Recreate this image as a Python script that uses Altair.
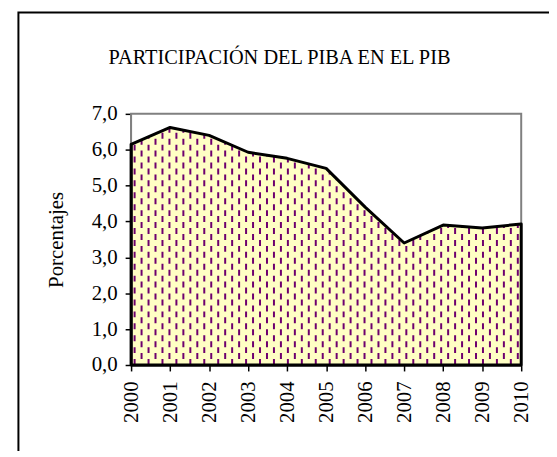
import altair as alt
import pandas as pd

years = [2000, 2001, 2002, 2003, 2004, 2005, 2006, 2007, 2008, 2009, 2010]
values = [6.15, 6.62, 6.40, 5.93, 5.76, 5.48, 4.40, 3.40, 3.90, 3.82, 3.93]
y_ticks = [0, 1, 2, 3, 4, 5, 6, 7]
title_text = "PARTICIPACIÓN DEL PIBA EN EL PIB"
y_title = "Porcentajes"

df = pd.DataFrame({"year": years, "value": values})

FONT = "Liberation Serif, Times New Roman, serif"
XS = alt.Scale(domain=[2000, 2010], nice=False, zero=False)
YS = alt.Scale(domain=[0, 7], nice=False)

x_axis = alt.Axis(values=years, format="d", labelAngle=-90, labelPadding=10,
                  tickSize=6, title=None, labelOverlap=False)
y_axis = alt.Axis(values=y_ticks, labelExpr="replace(format(datum.value, '.1f'), '.', ',')",
                  tickSize=6, labelPadding=8, title=y_title, titlePadding=25,
                  labelOverlap=False)

# outer frame of the chart box
frame_box = alt.Chart(alt.Data(values=[{"k": 1}])).mark_rect(
    fillOpacity=0, stroke="black", strokeWidth=2
).encode(x=alt.value(-113.5), y=alt.value(-102), x2=alt.value(700), y2=alt.value(600))

# dashed texture (decorative pattern)
seq = alt.sequence(0, 56, 1, as_="i")
def dashes(parity, offset):
    return alt.Chart(seq).transform_calculate(
        px="2000.09 + datum.i * 0.1786", par="datum.i % 2"
    ).transform_filter(f"datum.par == {parity}").mark_rule(
        color="#6E006E", strokeWidth=2, strokeDash=[6, 6], strokeDashOffset=offset
    ).encode(
        x=alt.X("px:Q", scale=XS, axis=x_axis),
        y=alt.datum(0, scale=YS, axis=y_axis),
        y2=alt.datum(7),
    )

base = alt.Chart(df)

cover = base.mark_area(color="white", opacity=1, interpolate="linear").encode(
    x=alt.X("year:Q", scale=XS, axis=x_axis),
    y=alt.Y("value:Q", scale=YS, axis=y_axis),
    y2=alt.datum(7),
)

plot_frame = alt.Chart(alt.Data(values=[{"k": 1}])).mark_rect(
    fillOpacity=0, stroke="#808080", strokeWidth=2
).encode(
    x=alt.datum(2000, scale=XS, axis=x_axis), x2=alt.datum(2010),
    y=alt.datum(0, scale=YS, axis=y_axis), y2=alt.datum(7),
)

outline = base.mark_area(fillOpacity=0, stroke="black", strokeWidth=3,
                         strokeJoin="round", interpolate="linear").encode(
    x=alt.X("year:Q", scale=XS, axis=x_axis),
    y=alt.Y("value:Q", scale=YS, axis=y_axis),
)

chart = alt.layer(
    frame_box, dashes(0, 0), dashes(1, 6), cover, plot_frame, outline
).properties(
    width=393, height=253,
    title=alt.TitleParams(title_text, font=FONT, fontSize=20.5, fontWeight="normal",
                          color="black", anchor="middle", frame="group", dx=-47,
                          offset=-73, baseline="alphabetic"),
    autosize=alt.AutoSizeParams(type="none"),
    padding={"left": 124, "top": 105, "right": 28, "bottom": 85},
).configure_view(
    fill="#FFFFC4", stroke=None
).configure_title(
    font=FONT
).configure_axis(
    labelFont=FONT, titleFont=FONT, labelFontSize=21, titleFontSize=21,
    labelColor="black", titleColor="black", titleFontWeight="normal",
    domainColor="black", domainWidth=2, tickColor="black", tickWidth=1.5,
    grid=False, zindex=1,
)

chart.save("out.html", embed_options={"renderer": "svg", "actions": False})
